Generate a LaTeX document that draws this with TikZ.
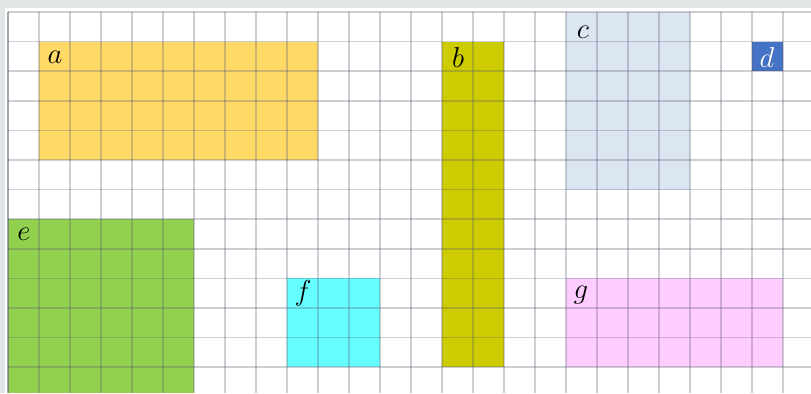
\documentclass[tikz,border=0pt]{standalone}
\usepackage{tikz}
\definecolor{framegray}{RGB}{226, 229, 229}
\definecolor{gridline}{RGB}{90, 90, 115}
\definecolor{ablock}{RGB}{255, 217, 102}
\definecolor{bblock}{RGB}{204, 204, 0}
\definecolor{cblock}{RGB}{220, 230, 242}
\definecolor{dblock}{RGB}{68, 114, 196}
\definecolor{eblock}{RGB}{146, 208, 80}
\definecolor{fblock}{RGB}{102, 255, 255}
\definecolor{gblock}{RGB}{255, 204, 255}

\begin{document}
\begin{tikzpicture}[
  x=0.5pt, y=-0.5pt,
  cell/.style={draw=gridline, draw opacity=0.3, line width=0.8pt},
  edge/.style={draw=gridline, draw opacity=0.55, line width=0.9pt},
  lbl/.style={inner sep=0pt, font=\fontsize{14}{16}\selectfont}
]
  \useasboundingbox (0,0) rectangle (811,393);
  \fill[framegray] (0,0) rectangle (811,393);
  \fill[white] (5,8) rectangle (811,393);

  \fill[ablock] (39,41.6) rectangle (318,160);
  \fill[bblock] (442,41.6) rectangle (504,367.2);
  \fill[cblock] (566,12) rectangle (690,189.6);
  \fill[dblock] (752,41.6) rectangle (783,71.2);
  \fill[eblock] (8,219.2) rectangle (194,393);
  \fill[fblock] (287,278.4) rectangle (380,367.2);
  \fill[gblock] (566,278.4) rectangle (783,367.2);

  \foreach \i in {1,...,25}
    \draw[cell] ({8+31*\i},12) -- ({8+31*\i},393);
  \foreach \j in {0,...,12}
    \draw[cell] (8,{12+29.6*\j}) -- (811,{12+29.6*\j});
  \draw[edge] (8,12) -- (8,393);

  \node[lbl] (la) at (55,57) {$a$};
  \node[lbl] (lb) at (458,57) {$b$};
  \node[lbl] (lc) at (583,32) {$c$};
  \node[lbl, text=white] (ld) at (767,57) {$d$};
  \node[lbl] (le) at (24,234) {$e$};
  \node[lbl] (lf) at (303,293) {$f$};
  \node[lbl] (lg) at (581,295) {$g$};
\end{tikzpicture}
\end{document}
